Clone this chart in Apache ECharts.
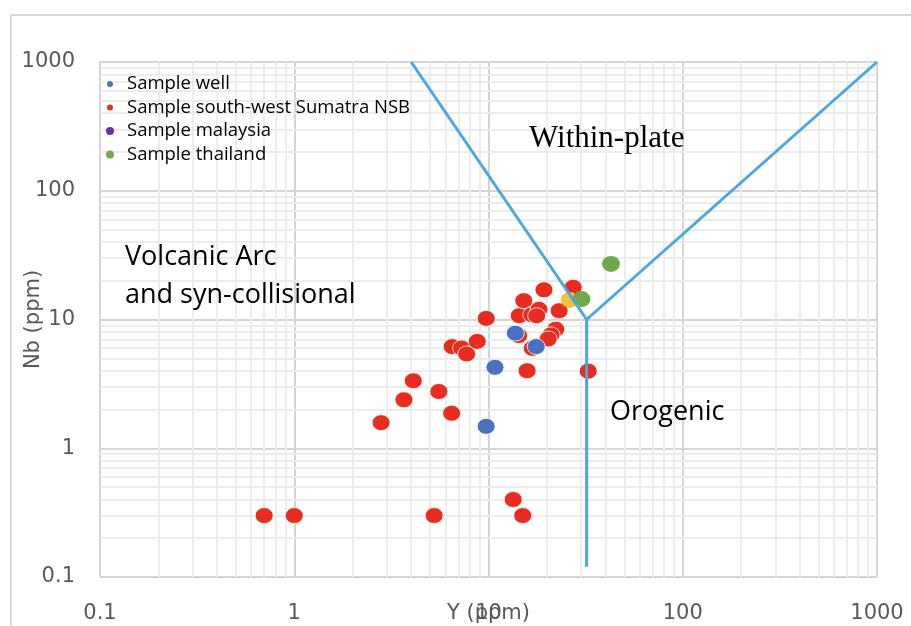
<!DOCTYPE html>
<html>
<head>
<meta charset="utf-8">
<script src="https://cdn.jsdelivr.net/npm/echarts@6/dist/echarts.min.js"></script>
<style>
html,body{margin:0;padding:0;background:#fff;}
#chart{width:911px;height:626px;}
</style>
</head>
<body>
<div id="chart"></div>
<script>
// ---- data (Y ppm, Nb ppm) ----
const wellY  = [9.73, 10.8, 13.75, 17.6];
const wellNb = [1.48, 4.25, 7.83, 6.16];

const sumatraY  = [0.70, 1.0, 5.25, 2.8, 3.67, 4.1, 5.55, 6.46, 6.5, 7.27, 7.72, 8.75, 9.73,
                   14.3, 13.4, 15.0, 15.8, 14.4, 15.2, 19.3, 16.7, 18.2, 17.7, 23.1, 22.2,
                   21.0, 20.3, 16.8, 27.3, 32.6];
const sumatraNb = [0.30, 0.30, 0.30, 1.58, 2.38, 3.34, 2.76, 1.87, 6.16, 6.0, 5.4, 6.76, 10.2,
                   7.5, 0.40, 0.30, 4.0, 10.7, 14.0, 17.0, 10.9, 12.0, 10.7, 11.7, 8.4,
                   7.6, 7.07, 5.97, 17.8, 3.97];

const malaysiaY  = [];
const malaysiaNb = [];

const otherY  = [26.2];
const otherNb = [14.2];

const thailandY  = [30.1, 42.7];
const thailandNb = [14.4, 27.0];

// discrimination boundaries
const boundaryA = [[4, 1000], [32, 10]];
const boundaryB = [[32, 10], [1000, 1000]];
const boundaryC = [[32, 10], [32, 0.12]];

// axis ticks
const axisMin = 0.1, axisMax = 1000;
const minorGrid = [0.2,0.3,0.4,0.5,0.6,0.7,0.8,0.9, 2,3,4,5,6,7,8,9,
                   20,30,40,50,60,70,80,90, 200,300,400,500,600,700,800,900];

const legendNames = ['Sample well', 'Sample south-west Sumatra NSB', 'Sample malaysia', 'Sample thailand'];

function pairs(xs, ys){ return xs.map((x,i)=>[x, ys[i]]); }

const chart = echarts.init(document.getElementById('chart'), null, {renderer:'canvas'});

const axisText = {color:'#595959', fontFamily:'DejaVu Sans', fontSize:21};
const markerSize = [18, 16];
const lineBlue = '#4CA6E1';
const fmt = v => String(+v.toPrecision(6));

const option = {
  animation:false,
  backgroundColor:'#ffffff',
  grid:{left:100, right:34, top:62, bottom:49, outerBoundsMode:'none', containLabel:false},
  legend:{
    orient:'vertical', left:100, top:69, itemGap:3.5,
    itemWidth:8, itemHeight:8, icon:'circle',
    data: legendNames,
    textStyle:{color:'#000', fontFamily:'Open Sans', fontSize:18.5, lineHeight:20, padding:[0,0,0,8]}
  },
  xAxis:{
    type:'log', logBase:10, min:axisMin, max:axisMax,
    name:'Y (ppm)', nameLocation:'middle', nameGap:26, nameMoveOverlap:false,
    nameTextStyle:{...axisText, verticalAlign:'top'},
    axisLine:{show:false}, axisTick:{show:false},
    axisLabel:{...axisText, margin:26, formatter:fmt},
    splitLine:{show:true, lineStyle:{color:'#d4d4d4', width:2}}
  },
  yAxis:{
    type:'log', logBase:10, min:axisMin, max:axisMax,
    name:'Nb (ppm)', nameLocation:'middle', nameGap:56, nameMoveOverlap:false,
    nameTextStyle:{...axisText},
    axisLine:{show:false}, axisTick:{show:false},
    axisLabel:{...axisText, margin:25, padding:[6,0,0,0], formatter:fmt},
    splitLine:{show:true, lineStyle:{color:'#d4d4d4', width:2}}
  },
  series:[
    {
      type:'scatter', name:'_grid', data:[], silent:true, z:0,
      markLine:{
        silent:true, symbol:'none', label:{show:false}, animation:false, z:0,
        lineStyle:{color:'#ececec', width:2, type:'solid'},
        data: minorGrid.map(v=>({xAxis:v})).concat(minorGrid.map(v=>({yAxis:v})))
      }
    },
    {type:'line', name:'_bA', data:boundaryA, symbol:'none', z:5, lineStyle:{color:lineBlue, width:3}, silent:true},
    {type:'line', name:'_bB', data:boundaryB, symbol:'none', z:5, lineStyle:{color:lineBlue, width:3}, silent:true},
    {type:'line', name:'_bC', data:boundaryC, symbol:'none', z:5, lineStyle:{color:lineBlue, width:3}, silent:true},
    {type:'scatter', name:legendNames[1], data:pairs(sumatraY, sumatraNb), symbolSize:markerSize, z:3,
      itemStyle:{color:'#E62D1F', borderColor:'#fff', borderWidth:0.8, opacity:1}},
    {type:'scatter', name:legendNames[0], data:pairs(wellY, wellNb), symbolSize:markerSize, z:3,
      itemStyle:{color:'#4A70C2', borderColor:'#fff', borderWidth:0.8, opacity:1}},
    {type:'scatter', name:legendNames[2], data:pairs(malaysiaY, malaysiaNb), symbolSize:markerSize, z:3,
      itemStyle:{color:'#7030A0', opacity:1}},
    {type:'scatter', name:'_other', data:pairs(otherY, otherNb), symbolSize:markerSize, z:3,
      itemStyle:{color:'#F2C13D', opacity:1}},
    {type:'scatter', name:legendNames[3], data:pairs(thailandY, thailandNb), symbolSize:markerSize, z:3,
      itemStyle:{color:'#70AA48', opacity:1}}
  ],
  graphic:[
    {type:'rect', shape:{x:11, y:15, width:940, height:660}, style:{fill:'none', stroke:'#d9d9d9', lineWidth:2}, silent:true, z:-10},
    {type:'text', left:529, top:123, style:{text:'Within-plate', font:'31px "Liberation Serif"', fill:'#000'}, z:10},
    {type:'text', left:125, top:238, style:{text:'Volcanic Arc\nand syn-collisional', font:'27px "Open Sans"', lineHeight:38, fill:'#000'}, z:10},
    {type:'text', left:610, top:399, style:{text:'Orogenic', font:'27px "Open Sans"', fill:'#000'}, z:10}
  ]
};
chart.setOption(option);
</script>
</body>
</html>
